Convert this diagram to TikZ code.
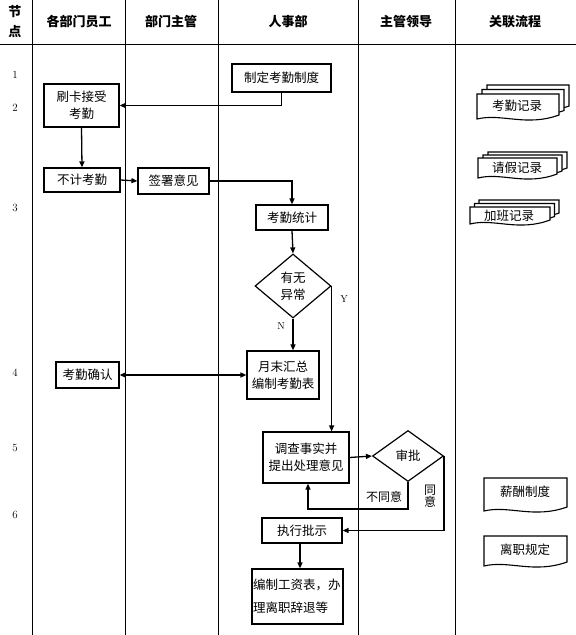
\documentclass[tikz,border=0pt]{standalone}
\usepackage{fontspec}
\newfontfamily\cjk{Noto Sans CJK SC}
\usetikzlibrary{shapes.geometric,arrows.meta,positioning}

\tikzset{
    lane/.style={line width=0.8pt},
    head/.style={font=\cjk\bfseries\fontsize{13}{20}\selectfont, align=center, inner sep=0pt},
    stepnum/.style={font=\fontsize{11}{13}\selectfont, inner sep=0pt},
    box/.style={draw, line width=1.2pt, font=\cjk\fontsize{12.5}{17}\selectfont, align=center, inner sep=0pt},
    choice/.style={diamond, draw, line width=1.2pt, font=\cjk\fontsize{12.5}{17}\selectfont, align=center, inner sep=0pt},
    flow/.style={->, line width=1.3pt},
    yesno/.style={font=\fontsize{10}{12}\selectfont, inner sep=0pt},
    cjklabel/.style={font=\cjk\fontsize{12}{13}\selectfont, align=center, inner sep=0pt},
    docline/.style={draw, line width=1.1pt, fill=white},
    doctext/.style={font=\cjk\fontsize{12.5}{15}\selectfont, inner sep=0pt}
}

% one sheet with a wavy bottom: x1 y1 x2 y2
\newcommand{\docsheet}[4]{%
    \draw[docline] ({#1},{#2}) -- ({#3},{#2}) -- ({#3},{(#4)-6})
        .. controls ({(#1)+0.6*((#3)-(#1))},{(#4)+6}) and ({(#1)+0.3*((#3)-(#1))},{(#4)-8}) .. ({#1},{(#4)-2}) -- cycle;}
% three sheets stacked: x1 y1 x2 y2 dx dy
\newcommand{\docstack}[6]{%
    \docsheet{(#1)+2*(#5)}{(#2)-2*(#6)}{(#3)+2*(#5)}{(#4)-2*(#6)}
    \docsheet{(#1)+(#5)}{(#2)-(#6)}{(#3)+(#5)}{(#4)-(#6)}
    \docsheet{#1}{#2}{#3}{#4}}

\begin{document}
\begin{tikzpicture}[x=1pt, y=-1pt, >={Triangle[length=6pt,width=5pt]}]
    \useasboundingbox (0,0) rectangle (576,635);

    % Lanes
    \foreach \x in {32,125,218,358,455}
        \draw[lane] (\x,0) -- (\x,635);
    \draw[lane] (0,44) -- (576,44);

    % Header
    \node[head] (hstep) at (15,22) {节\\点};
    \node[head] (hstaff) at (79,22) {各部门员工};
    \node[head] (hdept) at (171,22) {部门主管};
    \node[head] (hhr) at (288,22) {人事部};
    \node[head] (hlead) at (406,22) {主管领导};
    \node[head] (hlink) at (515,22) {关联流程};

    % Step numbers
    \foreach \n/\y in {1/75,2/108,3/208,4/373,5/448,6/515}
        \node[stepnum] (num\n) at (15,\y) {\n};

    % Boxes
    \node[box, minimum width=99pt, minimum height=28pt] (zhiding) at (281.5,78) {制定考勤制度};
    \node[box, minimum width=75pt, minimum height=43pt] (shuaka) at (81.5,105.5) {刷卡接受\\考勤};
    \node[box, minimum width=76pt, minimum height=24pt] (buji) at (82,180) {不计考勤};
    \node[box, minimum width=71pt, minimum height=26pt] (qianshu) at (173.5,181) {签署意见};
    \node[box, minimum width=72pt, minimum height=25pt] (tongji) at (292,217.5) {考勤统计};
    \node[choice, minimum width=76pt, minimum height=64pt] (yichang) at (293,286) {有无\\异常};
    \node[box, minimum width=72pt, minimum height=48pt] (huizong) at (283,375) {月末汇总\\编制考勤表};
    \node[box, minimum width=63pt, minimum height=26pt] (queren) at (87.5,375) {考勤确认};
    \node[box, minimum width=86pt, minimum height=51pt] (diaocha) at (306,457.5) {调查事实并\\提出处理意见};
    \node[choice, minimum width=71pt, minimum height=51pt] (shenpi) at (408,456) {审批};
    \node[box, minimum width=80pt, minimum height=25pt] (zhixing) at (302,530.5) {执行批示};
    \node[box, minimum width=91pt, minimum height=55pt, align=left, text width=89pt,
          font=\cjk\fontsize{12.5}{23}\selectfont] (bianzhi) at (297.5,596.5) {编制工资表，办\\理离职辞退等};

    % Connectors
    \draw[flow] (zhiding.south) |- (shuaka.east);
    \draw[flow] (shuaka.south) -- (buji.north);
    \draw[flow] (buji.east) -- (qianshu.west);
    \draw[flow] (qianshu.east) -| (tongji.north);
    \draw[flow] (tongji.south) -- (yichang.north);
    \draw[flow] (yichang.south) -- (yichang.south |- huizong.north);
    \node[yesno] (lblN) at (281,326) {N};
    \draw[flow] (yichang.east) -- (yichang.east |- diaocha.north);
    \node[yesno] (lblY) at (344,299) {Y};
    \draw[<->, line width=1.3pt] (queren.east) -- (huizong.west);
    \draw[flow] (diaocha.east) -- (shenpi.west);
    \coordinate (back) at (308,509);
    \draw[flow] (shenpi.south) |- (back) -- (back |- diaocha.south);
    \node[cjklabel] (lblno) at (384,497) {不同意};
    \draw[flow] (shenpi.east) |- (zhixing.east);
    \node[cjklabel, font=\cjk\fontsize{12}{12.5}\selectfont] (lblyes) at (430,496) {同\\意};
    \coordinate (down) at (300,543);
    \draw[flow] (down) -- (down |- bianzhi.north);

    % Related documents
    \docstack{477}{94}{559}{121}{5}{4.5}
    \node[doctext] (kqjl) at (517,106) {考勤记录};
    \docstack{478}{158}{557}{180}{5}{3}
    \node[doctext] (qjjl) at (517,168) {请假记录};
    \docstack{470}{207}{550}{226}{4.5}{3.5}
    \node[doctext] (jbjl) at (509,216) {加班记录};
    \docsheet{484}{478}{567}{513}
    \node[doctext] (xczd) at (525,492) {薪酬制度};
    \docsheet{484}{536}{567}{568}
    \node[doctext] (lzgd) at (525,550) {离职规定};

\end{tikzpicture}
\end{document}
